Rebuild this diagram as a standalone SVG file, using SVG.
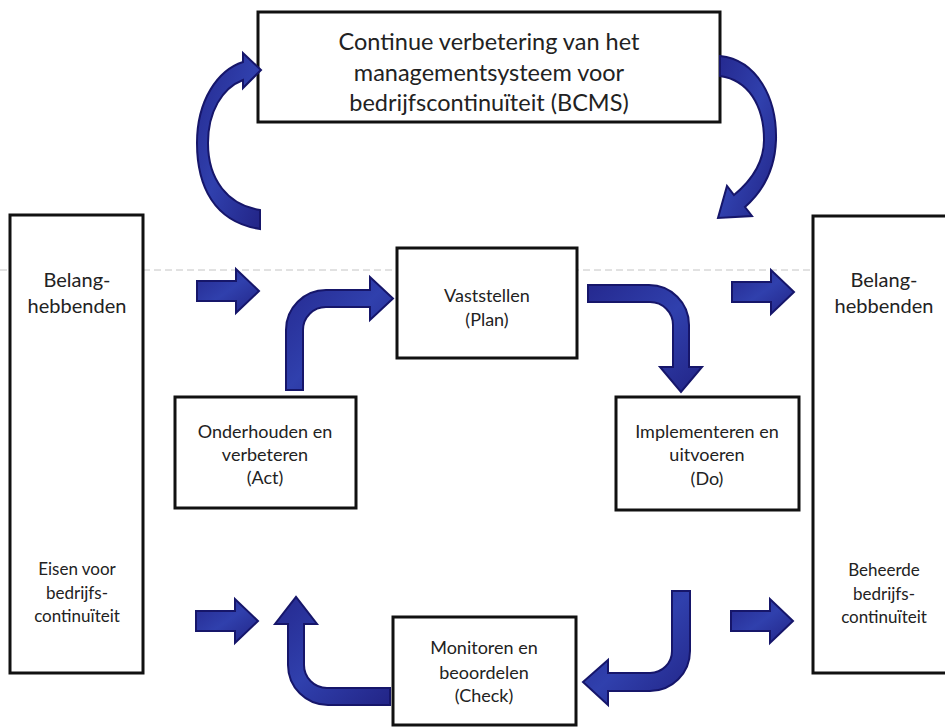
<svg xmlns="http://www.w3.org/2000/svg" width="945" height="727" viewBox="0 0 945 727">
<defs>
<style>
.box{fill:#fff;stroke:#111;stroke-width:3}
.t{font-family:Lato,"Open Sans","Liberation Sans",sans-serif;fill:#222;text-anchor:middle}
.big{font-size:23.5px}
.mid{font-size:20px}
.sm{font-size:17px}
.bx{font-size:18px}
.arr{fill:url(#blue);stroke:#16166a;stroke-width:2;stroke-linejoin:miter}
</style>
<linearGradient id="blue" x1="0" y1="0" x2="1" y2="1">
<stop offset="0" stop-color="#25298f"/>
<stop offset="0.5" stop-color="#3040ad"/>
<stop offset="1" stop-color="#222486"/>
</linearGradient>
<path id="sarrow" d="M0 -10 L39 -10 L39 -22 L62 0 L39 22 L39 10 L0 10 Z"/>
</defs>
<rect width="945" height="727" fill="#fff"/>
<line x1="0" y1="270" x2="945" y2="270" stroke="#c4c4c4" stroke-width="1" stroke-dasharray="7 4"/>

<g id="node-bcms">
<rect class="box" x="258" y="12" width="462" height="110"/>
<text class="t big" x="489" y="50">Continue verbetering van het</text>
<text class="t big" x="489" y="81">managementsysteem voor</text>
<text class="t big" x="489" y="111">bedrijfscontinuïteit (BCMS)</text>
</g>

<g id="node-left">
<rect class="box" x="10" y="215" width="133" height="458"/>
<text class="t mid" x="77" y="287">Belang-</text>
<text class="t mid" x="77" y="313">hebbenden</text>
<text class="t sm" x="77" y="575">Eisen voor</text>
<text class="t sm" x="77" y="599">bedrijfs-</text>
<text class="t sm" x="77" y="622">continuïteit</text>
</g>

<g id="node-right">
<rect class="box" x="813" y="216" width="145" height="457"/>
<text class="t mid" x="884" y="287">Belang-</text>
<text class="t mid" x="884" y="313">hebbenden</text>
<text class="t sm" x="884" y="576">Beheerde</text>
<text class="t sm" x="884" y="600">bedrijfs-</text>
<text class="t sm" x="884" y="623">continuïteit</text>
</g>

<g id="node-plan">
<rect class="box" x="397" y="248" width="180" height="110"/>
<text class="t bx" x="487" y="302">Vaststellen</text>
<text class="t bx" x="487" y="326">(Plan)</text>
</g>

<g id="node-act">
<rect class="box" x="175" y="397" width="181" height="111"/>
<text class="t bx" x="265" y="438">Onderhouden en</text>
<text class="t bx" x="265" y="461">verbeteren</text>
<text class="t bx" x="265" y="484">(Act)</text>
</g>

<g id="node-do">
<rect class="box" x="616" y="397" width="183" height="113"/>
<text class="t bx" x="707" y="438">Implementeren en</text>
<text class="t bx" x="707" y="461">uitvoeren</text>
<text class="t bx" x="707" y="485">(Do)</text>
</g>

<g id="node-check">
<rect class="box" x="393" y="617" width="183" height="108"/>
<text class="t bx" x="484" y="654">Monitoren en</text>
<text class="t bx" x="484" y="679">beoordelen</text>
<text class="t bx" x="484" y="702">(Check)</text>
</g>

<g id="connectors">
<path class="arr" d="M260 229 C214 222 197 186 197 143 C197 100 218 70 243 62 L243 53 L261 70 L243 88 L243 80 C222 88 208 112 208 143 C208 180 228 205 260 210 Z"/>
<path class="arr" d="M720 56 C757 60 777 98 776 140 C775 170 762 192 745 207 L752 216 L718 218 L727 186 L734 195 C752 180 764 162 764 140 C764 105 748 80 720 76 Z"/>
<use href="#sarrow" class="arr" transform="translate(197,291)"/>
<use href="#sarrow" class="arr" transform="translate(732,292)"/>
<use href="#sarrow" class="arr" transform="translate(196,621)"/>
<use href="#sarrow" class="arr" transform="translate(731,621)"/>
<path class="arr" d="M286 390 L286 330 A40 40 0 0 1 326 290 L370 290 L370 277 L393 298.5 L370 320 L370 307 L326 307 A23 23 0 0 0 303 330 L303 390 Z"/>
<path class="arr" d="M588 285 L649 285 A40 40 0 0 1 689 325 L689 367 L702 367 L681 392 L660 367 L673 367 L673 325 A23 23 0 0 0 650 302 L588 302 Z"/>
<path class="arr" d="M672 591 L690 591 L690 651 A40 40 0 0 1 650 691 L608 691 L608 705 L583 682 L608 660 L608 673 L650 673 A22 22 0 0 0 672 651 Z"/>
<path class="arr" d="M390 688 L390 705 L328 705 A40 40 0 0 1 288 665 L288 624 L275 624 L296 597 L317 624 L304 624 L304 665 A23 23 0 0 0 327 688 Z"/>
</g>
</svg>
